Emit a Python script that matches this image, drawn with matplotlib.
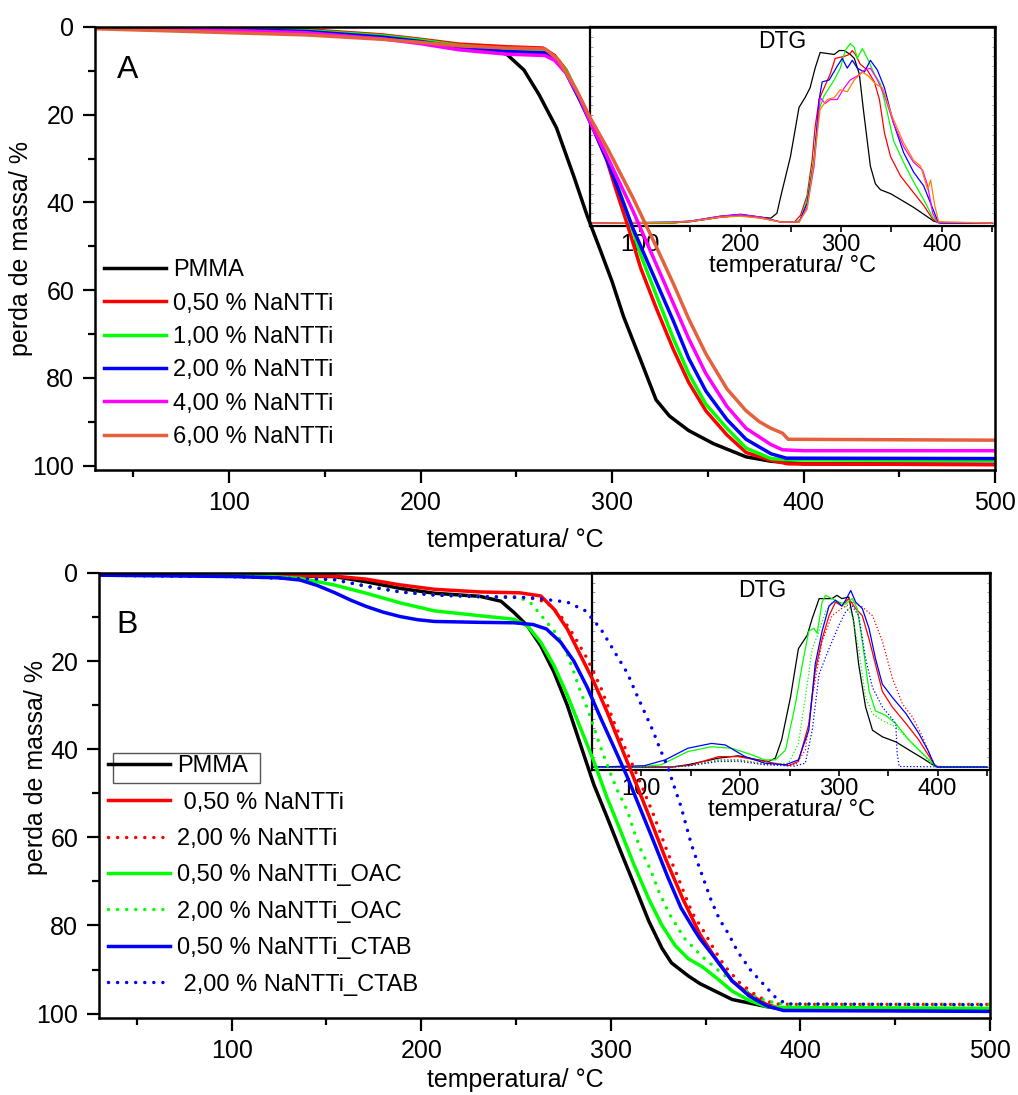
import numpy as np
import matplotlib
import matplotlib.pyplot as plt
from matplotlib.patches import Rectangle
matplotlib.use('Agg')

plt.rcParams['font.family'] = ['Liberation Sans', 'DejaVu Sans']

# ---------- Painel A: TGA ----------
t_a_pmma = [30, 70, 100, 140, 180, 200, 220, 240, 245, 254, 262, 271, 280, 287, 294, 300, 306, 315, 323, 330, 340, 353, 370, 383, 400, 500]
m_a_pmma = [0.0, 0.3, 0.6, 1.0, 2.3, 3.3, 4.6, 5.6, 6.2, 9.8, 15.5, 23, 34, 43, 51, 58, 66, 76, 85, 88.7, 92, 95, 98, 99, 99.6, 99.7]

t_a_050 = [30, 70, 100, 140, 180, 200, 220, 245, 264, 270, 276, 283, 290, 297, 302, 308, 315, 323, 332, 340, 349, 360, 370, 383, 392, 500]
m_a_050 = [0.0, 0.1, 0.3, 0.6, 1.8, 2.8, 3.9, 4.5, 4.8, 6.5, 9.8, 16, 23, 30, 37, 45, 55, 64, 73.5, 81, 87.5, 93, 97, 98.8, 99.6, 99.8]

t_a_100 = [30, 70, 100, 140, 180, 200, 220, 245, 265, 270, 276, 283, 290, 297, 302, 308, 315, 323, 332, 340, 349, 360, 370, 383, 392, 500]
m_a_100 = [0.0, 0.2, 0.4, 0.8, 2.0, 3.0, 4.2, 5.0, 5.3, 6.8, 10, 16, 22.5, 29, 35, 42.5, 52, 61, 71, 79, 86, 91.5, 96, 98.4, 98.7, 98.8]

t_a_200 = [30, 70, 100, 140, 180, 200, 220, 245, 265, 270, 276, 283, 290, 298, 305, 311, 323, 332, 340, 349, 360, 370, 383, 391, 500]
m_a_200 = [0.0, 0.3, 0.6, 1.0, 2.3, 3.3, 4.6, 5.6, 5.9, 7.2, 10.5, 16.5, 23, 31, 39, 46, 58, 67, 75.5, 83, 89.5, 94, 97.3, 98.3, 98.4]

t_a_400 = [30, 70, 100, 140, 180, 200, 220, 245, 265, 270, 276, 283, 290, 298, 311, 323, 332, 340, 349, 360, 370, 383, 389, 400, 500]
m_a_400 = [0.0, 0.4, 0.8, 1.3, 2.7, 3.8, 5.2, 6.2, 6.5, 7.6, 10.5, 16, 23, 30, 42, 54, 63, 71, 79, 86.5, 91.5, 95.2, 96.4, 96.6, 96.6]

t_a_600 = [30, 70, 100, 140, 180, 200, 220, 245, 265, 272, 281, 289, 298, 311, 323, 332, 340, 349, 360, 370, 377, 383, 389, 392, 500]
m_a_600 = [0.4, 0.9, 1.3, 1.8, 2.8, 3.5, 4.3, 4.8, 5.0, 7.5, 14, 21, 28, 39, 50, 58.5, 66.5, 74.5, 82.5, 87.5, 90, 91.5, 92.6, 94, 94.2]

# ---------- Painel A: DTG ----------
d_a_pmma_t = [50, 130, 150, 180, 200, 220, 230, 236, 240, 249.5, 258, 264, 269, 274, 279, 286, 293, 298, 303, 309, 313, 318, 322, 329, 334, 339, 349, 359, 372, 382, 392, 399, 450]
d_a_pmma_h = [0, 0, 0.7, 3, 4, 3, 2.5, 5, 14, 34, 59, 64, 69, 79, 87, 86.5, 86, 88, 88, 86, 84, 76, 58, 29, 20, 17, 15, 12, 8, 4.5, 1, 0, 0]

d_a_050_t = [50, 130, 150, 180, 200, 220, 240, 253, 259.5, 266, 271, 274, 278, 283, 289, 294, 303, 308, 311, 314, 319, 326, 333, 338, 343, 349, 359, 372, 382, 391, 397, 450]
d_a_050_h = [0, 0, 0.8, 3, 3.8, 2.5, 0.5, 0.3, 4, 14, 32, 49, 63, 69, 76, 84, 85, 86, 88, 86, 81, 78, 72, 63, 46, 34, 24, 15.5, 9, 2, 0, 0]

d_a_100_t = [50, 130, 150, 180, 200, 220, 240, 255, 259.5, 266, 273, 278, 283, 293, 299, 304, 309, 313, 316, 321, 326, 333, 339, 346, 352, 362, 372, 382, 391, 397, 450]
d_a_100_h = [0, 0, 1, 3.5, 4.3, 3, 0.5, 0.5, 2, 12, 34, 58, 65, 73, 79, 88, 91.6, 89.6, 84, 89, 84, 76, 71, 56, 42, 31, 21, 12, 3, 0, 0]

d_a_200_t = [50, 130, 150, 180, 200, 220, 240, 258, 266, 273, 278, 281, 288, 296, 301, 306, 311, 316, 323, 329, 336, 343, 352, 362, 372, 382, 389, 396, 399, 450]
d_a_200_h = [0, 0.5, 1, 3.5, 4.5, 3, 0.5, 0.5, 10, 32, 63, 72, 73, 80, 84, 79, 83, 79, 77, 83, 78, 69, 51, 36, 26, 19, 10, 1, 0, 0]

d_a_400_t = [50, 130, 150, 180, 200, 220, 240, 258, 266, 273, 279, 284, 289, 296, 303, 309, 316, 323, 329, 336, 343, 352, 362, 372, 381, 386, 391, 396, 450]
d_a_400_h = [0, 0.3, 1, 3.5, 4.3, 3, 0.5, 0.5, 8, 29, 64, 61, 63, 63, 69, 73, 75, 78, 79, 73, 65, 51, 39, 31, 27, 19, 5, 0.3, 0]

d_a_600_t = [50, 130, 150, 180, 200, 220, 240, 258, 266, 273, 279, 286, 293, 299, 306, 313, 321, 327, 334, 341, 351, 362, 372, 379, 386, 389, 393, 397, 450]
d_a_600_h = [0, 0.3, 0.8, 3, 3.5, 2.5, 0.5, 0.5, 7, 32, 58, 63, 64, 68, 67, 73, 77, 75, 71, 69, 54, 41, 32, 29, 17, 22, 9, 0.7, 0]

# ---------- Painel B: TGA ----------
t_b_pmma = [30, 100, 154, 171, 189, 207, 231, 242, 249, 256, 263, 270, 277, 284, 291, 298, 305, 312, 320, 327, 332, 341, 347, 364, 382, 391, 500]
m_b_pmma = [0.3, 0.6, 0.8, 2.0, 3.5, 4.6, 5.3, 6.4, 9, 12, 16.5, 22.5, 30, 39, 48, 55.4, 63, 70.4, 79, 85.2, 88.5, 91.5, 93.2, 96.8, 98.4, 99, 99.3]

t_b_050 = [30, 100, 154, 171, 189, 207, 231, 252, 263, 270, 277, 284, 291, 298, 305, 312, 320, 329, 338, 347, 356, 364, 373, 382, 391, 500]
m_b_050 = [0.3, 0.5, 0.7, 1.4, 2.7, 3.7, 4.3, 4.5, 5.2, 8.2, 12.7, 18.7, 24.7, 31.5, 39, 46.4, 55, 65, 74, 82, 88, 92.6, 95.6, 97.9, 99, 99.3]

t_b_200 = [30, 100, 154, 171, 189, 207, 231, 249, 259, 266, 273.5, 280.5, 287.6, 294.7, 301.8, 308.8, 316, 323, 330, 335, 339, 343, 349, 355, 360, 368, 377, 386, 395, 500]
m_b_200 = [0.5, 0.8, 1.5, 3.0, 4.3, 5.0, 5.3, 5.4, 5.8, 6.6, 9.7, 14.2, 19.5, 26, 34, 41, 48, 55.4, 63.5, 68.6, 73, 77.2, 81.3, 85.8, 89.2, 93, 96, 97.8, 97.9, 97.9]

t_b_050oac = [30, 100, 120, 136, 154, 171, 189, 207, 231, 249, 256, 263, 270, 277, 284, 291, 298, 305, 312, 320, 327, 334, 341, 348, 356, 364, 373, 382, 391, 500]
m_b_050oac = [0.3, 0.6, 0.8, 1.2, 2.7, 4.6, 6.8, 8.6, 9.7, 10.5, 12, 15.7, 21, 27.7, 35.2, 42.7, 51, 58.4, 66, 74, 80, 84.6, 87.6, 89.3, 92, 94.9, 97, 98.4, 98.6, 98.8]

t_b_200oac = [30, 100, 154, 171, 189, 207, 231, 252, 257.5, 262.8, 271.7, 277, 280.5, 284, 287.6, 291, 294.7, 300, 303.5, 308.8, 312, 316, 321, 325, 331, 339, 348, 357, 368, 377, 386, 395, 500]
m_b_200oac = [0.5, 0.8, 1.5, 3.0, 4.3, 5.0, 5.4, 5.6, 6.7, 9.4, 14, 18.4, 22.5, 27, 30.7, 35, 39.7, 45.7, 49.4, 54, 58.4, 63, 67.4, 72, 77.5, 83, 87, 90.3, 94, 96.4, 97.5, 97.9, 97.9]

t_b_050ctab = [30, 100, 125, 136, 145, 154, 163, 171, 180, 189, 198, 207, 231, 249, 259, 266, 273.5, 280.5, 287.6, 294.7, 301.8, 308.8, 316, 323, 330, 337, 344, 347, 356, 364, 373, 382, 391, 500]
m_b_050ctab = [0.5, 0.8, 1.1, 1.6, 2.8, 4.4, 6.2, 7.6, 8.9, 9.9, 10.6, 11.0, 11.2, 11.3, 11.7, 12.7, 15.7, 20, 26, 33, 39.7, 46.4, 54, 61.4, 69, 76, 81, 83, 88, 92.6, 96, 98.2, 99.3, 99.5]

t_b_200ctab = [30, 100, 154, 171, 189, 207, 231, 257.5, 277, 286.7, 294.7, 301, 308.8, 313, 317.7, 322, 326, 330, 333.6, 337, 342.4, 346, 349.5, 353, 357.4, 361.8, 367, 374, 383, 387, 392.6, 500]
m_b_200ctab = [0.5, 0.8, 1.5, 3.0, 4.3, 5.0, 5.4, 5.6, 6.6, 8.6, 12.7, 17.2, 22.8, 27, 31.5, 35.6, 40, 44, 48.7, 53, 61.5, 66, 70.2, 74.4, 78.7, 81.7, 86, 90.3, 94.5, 96.4, 97.8, 98.0]

# ---------- Painel B: DTG ----------
d_b_pmma_t = [50, 130, 147, 178, 198, 218.6, 228.8, 235.6, 242, 251, 259, 268, 273, 280, 286, 293, 298, 303, 310, 315, 320, 327, 334, 344, 357.6, 371, 384.7, 395, 400, 450]
d_b_pmma_h = [0, 0, 1.2, 4.6, 5.8, 3.7, 2.9, 4.6, 14, 36, 61, 68, 76.6, 86.8, 86.8, 86.8, 88.5, 86.8, 87.6, 75, 53, 31, 19, 15.6, 13, 8.8, 4.6, 1.2, 0, 0]

d_b_050_t = [50, 130, 150, 178, 198, 225, 249, 259, 269.5, 276, 283, 290, 296.6, 303, 310, 317, 323.7, 330.5, 337, 344, 354, 368, 381, 391.5, 398, 450]
d_b_050_h = [0, 0, 1, 5.4, 5.4, 2.9, 0.7, 2.9, 22, 49.5, 66, 78, 85, 83, 86.8, 81.7, 78, 66, 53, 39, 31, 22.4, 13.9, 5.4, 0.3, 0]

d_b_200_t = [50, 130, 150, 178, 200, 225, 256, 266, 273, 283, 293, 303, 313.5, 323.7, 334, 344, 354, 364.4, 374.6, 384.7, 393, 398, 450]
d_b_200_h = [0, 0, 0.8, 3.7, 3.7, 1.5, 1.2, 8.8, 36, 65, 78, 81.7, 85, 82.5, 78, 65, 46, 32.5, 25.8, 15.6, 5.4, 0.3, 0]

d_b_050oac_t = [50, 100, 120, 147, 171, 191.5, 212, 225, 235.6, 246, 256, 263, 269.5, 274.6, 278, 283, 286.4, 293, 300, 306.8, 313.5, 318.6, 323.7, 330.5, 337, 347.5, 357.6, 371, 384.7, 395, 400, 450]
d_b_050oac_h = [0, 0.3, 1.2, 8, 10.5, 9.7, 6.3, 3.7, 3.7, 8.8, 32.5, 53, 70, 71.5, 69, 85, 88.5, 86.8, 85, 84, 86.8, 81.7, 64.7, 39.3, 29, 26.6, 22.4, 13.9, 7, 2, 0, 0]

d_b_200oac_t = [50, 130, 150, 178, 200, 225, 249, 259, 266, 273, 280, 286.4, 293, 300, 306.8, 313.5, 320, 327, 334, 344, 357.6, 371, 384.7, 393, 398, 450]
d_b_200oac_h = [0, 0, 0.8, 3.4, 3.4, 1.5, 2, 12, 36, 61, 70, 80, 85, 85, 83, 78, 61, 36, 27.5, 24, 20.7, 13.9, 7, 2, 0, 0]

d_b_050ctab_t = [50, 103, 124, 147, 171, 185, 205, 225, 246, 259, 269.5, 276, 283, 290, 296.6, 303, 306.8, 312, 317, 323.7, 330.5, 337, 344, 354, 368, 381, 390, 396.6, 400, 450]
d_b_050ctab_h = [0, 0.7, 3.7, 9.7, 12.2, 11.4, 5.4, 2, 1.2, 3.7, 19, 53, 70, 83, 86, 83, 86, 91, 85, 81.7, 71.5, 56, 42.7, 36, 27.5, 17.3, 8.8, 1.2, 0, 0]

d_b_200ctab_t = [50, 130, 150, 178, 200, 225, 255, 266, 273, 280, 290, 300, 306.8, 313.5, 320, 327, 334, 344, 352.5, 357.6, 359, 361, 450]
d_b_200ctab_h = [0, 0, 0.8, 2.9, 2.9, 1.2, 0.5, 2, 19, 48, 61, 73, 80, 83, 78, 56, 41, 31, 25.8, 22.4, 7, 0.3, 0]

labels_a = ['PMMA', '0,50 % NaNTTi', '1,00 % NaNTTi', '2,00 % NaNTTi', '4,00 % NaNTTi', '6,00 % NaNTTi']
labels_b = ['PMMA', ' 0,50 % NaNTTi', '2,00 % NaNTTi', '0,50 % NaNTTi_OAC', '2,00 % NaNTTi_OAC',
            '0,50 % NaNTTi_CTAB', ' 2,00 % NaNTTi_CTAB']

DOT = (0, (0.01, 2.6))
cores_a = ['black', '#FF0000', '#00FF00', '#0000FF', '#FF00FF', '#E5603D']
cores_dtg_a = ['black', '#FF0000', '#00FF00', '#0000FF', '#FF00FF', '#FF8000']

W, H = 1018, 1095
fig = plt.figure(figsize=(W / 100, H / 100), dpi=100)


def box(x0, y0, x1, y1):
    return [x0 / W, 1 - y1 / H, (x1 - x0) / W, (y1 - y0) / H]


def estilo_main(ax):
    ax.set_xlim(30, 500)
    ax.set_ylim(101, 0)
    ax.set_xticks([100, 200, 300, 400, 500])
    ax.set_xticks([50, 150, 250, 350, 450], minor=True)
    ax.set_yticks([0, 20, 40, 60, 80, 100])
    ax.set_yticks([10, 30, 50, 70, 90], minor=True)
    ax.tick_params(which='major', direction='out', length=9, width=1.6, labelsize=18, pad=6)
    ax.tick_params(which='minor', direction='out', length=5, width=1.6)
    for s in ax.spines.values():
        s.set_linewidth(1.8)
    ax.set_facecolor('none')


def estilo_inset(ax):
    ax.set_xlim(50, 453)
    ax.set_ylim(-1.5, 100)
    ax.set_xticks([100, 200, 300, 400])
    ax.set_xticks([150, 250, 350, 450], minor=True)
    ax.set_yticks(np.arange(0, 100, 5), minor=True)
    ax.set_yticks([])
    ax.tick_params(axis='x', which='both', direction='out', length=4, width=1.2, labelsize=17, pad=2)
    ax.tick_params(axis='y', which='minor', direction='in', length=2, width=0.6, color='#888888',
                   left=True, right=True)
    for s in ax.spines.values():
        s.set_linewidth(1.6)
    ax.set_facecolor('none')
    ax.set_xlabel('temperatura/ °C', fontsize=17, labelpad=-1)


# ---------- Painel A ----------
ins_a = fig.add_axes(box(590, 27, 995, 226), zorder=1)
estilo_inset(ins_a)
dtg_a = [(d_a_pmma_t, d_a_pmma_h), (d_a_050_t, d_a_050_h), (d_a_100_t, d_a_100_h),
         (d_a_200_t, d_a_200_h), (d_a_400_t, d_a_400_h), (d_a_600_t, d_a_600_h)]
for (t, h), c in zip(dtg_a, cores_dtg_a):
    ins_a.plot(t, h, color=c, lw=0.9)
ins_a.text(0.474, 0.925, 'DTG', transform=ins_a.transAxes, ha='center', va='center', fontsize=16.5)

ax_a = fig.add_axes(box(95, 27, 995, 470), zorder=2)
estilo_main(ax_a)
tga_a = [(t_a_pmma, m_a_pmma), (t_a_050, m_a_050), (t_a_100, m_a_100),
         (t_a_200, m_a_200), (t_a_400, m_a_400), (t_a_600, m_a_600)]
for (t, m), c, lab in zip(tga_a, cores_a, labels_a):
    ax_a.plot(t, m, color=c, lw=2.5, label=lab)
ax_a.legend(loc='upper left', bbox_to_anchor=(0.0, 0.497), frameon=False, fontsize=17,
            handlelength=2.6, handletextpad=0.3, labelspacing=0.48, borderaxespad=0.2, borderpad=0.2)
ax_a.text(0.024, 0.903, 'A', transform=ax_a.transAxes, ha='left', va='center', fontsize=23)
ax_a.set_ylabel('perda de massa/ %', fontsize=18)
ax_a.yaxis.set_label_coords(-0.069, 0.5)
ax_a.set_xlabel('temperatura/ °C', fontsize=18)
ax_a.xaxis.set_label_coords(0.467, -0.13)

# ---------- Painel B ----------
ins_b = fig.add_axes(box(592, 573, 990, 770), zorder=1)
estilo_inset(ins_b)
dtg_b = [(d_b_pmma_t, d_b_pmma_h, 'black', '-'), (d_b_050_t, d_b_050_h, '#FF0000', '-'),
         (d_b_200_t, d_b_200_h, '#FF0000', ':'), (d_b_050oac_t, d_b_050oac_h, '#00FF00', '-'),
         (d_b_200oac_t, d_b_200oac_h, '#00FF00', ':'), (d_b_050ctab_t, d_b_050ctab_h, '#0000FF', '-'),
         (d_b_200ctab_t, d_b_200ctab_h, '#0000FF', ':')]
for t, h, c, ls in dtg_b:
    ins_b.plot(t, h, color=c, lw=0.9, ls=ls)
ins_b.text(0.427, 0.909, 'DTG', transform=ins_b.transAxes, ha='center', va='center', fontsize=16.5)

ax_b = fig.add_axes(box(99, 573, 990, 1018), zorder=2)
estilo_main(ax_b)
tga_b = [(t_b_pmma, m_b_pmma, 'black', '-'), (t_b_050, m_b_050, '#FF0000', '-'),
         (t_b_200, m_b_200, '#FF0000', DOT), (t_b_050oac, m_b_050oac, '#00FF00', '-'),
         (t_b_200oac, m_b_200oac, '#00FF00', DOT), (t_b_050ctab, m_b_050ctab, '#0000FF', '-'),
         (t_b_200ctab, m_b_200ctab, '#0000FF', DOT)]
for (t, m, c, ls), lab in zip(tga_b, labels_b):
    ln, = ax_b.plot(t, m, color=c, lw=2.5, ls=ls, label=lab)
    ln.set_dash_capstyle('round')
ax_b.legend(loc='upper left', bbox_to_anchor=(0.0, 0.612), frameon=False, fontsize=17,
            handlelength=2.6, handletextpad=0.3, labelspacing=0.61, borderaxespad=0.2, borderpad=0.2)
ax_b.add_patch(Rectangle((0.0154, 0.529), 0.165, 0.067, transform=ax_b.transAxes,
                         fill=False, edgecolor='#555555', lw=1.0))
ax_b.text(0.02, 0.883, 'B', transform=ax_b.transAxes, ha='left', va='center', fontsize=23)
ax_b.set_ylabel('perda de massa/ %', fontsize=18)
ax_b.yaxis.set_label_coords(-0.057, 0.564)
ax_b.set_xlabel('temperatura/ °C', fontsize=18)
ax_b.xaxis.set_label_coords(0.467, -0.112)

fig.savefig('out.png', dpi=100)
